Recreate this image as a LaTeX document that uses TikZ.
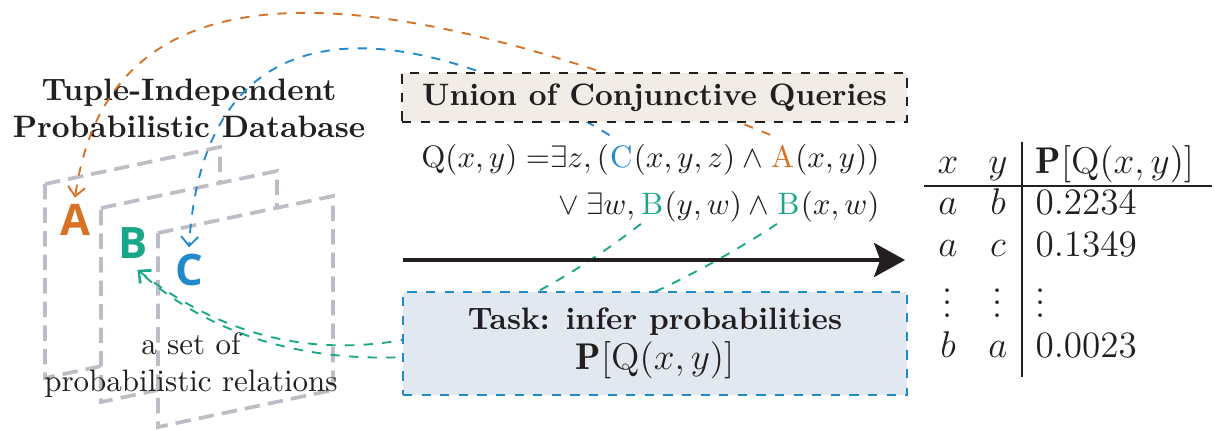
\documentclass[tikz,border=0pt]{standalone}
\usepackage{fontspec}
\usepackage{amsmath,amssymb}
\newfontfamily\letterfont{Open Sans}
\usetikzlibrary{arrows.meta}
\definecolor{ink}{HTML}{231F20}
\definecolor{corange}{HTML}{D97124}
\definecolor{cgreen}{HTML}{19A887}
\definecolor{cblue}{HTML}{2189CC}
\definecolor{pagegray}{HTML}{BDBDC5}
\definecolor{beige}{HTML}{F1ECE6}
\definecolor{paleblue}{HTML}{E1E8EF}
\tikzset{
  page/.style={draw=pagegray, fill=white, line width=1.2pt, dash pattern=on 5pt off 2.6pt, line join=miter},
  relletter/.style={inner sep=2pt, font=\letterfont\bfseries\fontsize{14}{14}\selectfont},
  piece/.style={inner sep=0pt, text=ink, anchor=base east},
  qletter/.style={inner xsep=0pt, inner ysep=3pt, anchor=base east},
  conn/.style={dashed, line width=0.6pt, -{Straight Barb[length=3pt,width=5.5pt]}},
  ubox/.style={draw=ink, dashed, line width=0.8pt, fill=beige, minimum width=162.9pt, minimum height=15.8pt, inner sep=0pt, text=ink, font=\bfseries},
  tbox/.style={draw=cblue, dashed, line width=0.8pt, fill=paleblue, minimum width=162.6pt, minimum height=33.2pt, inner sep=0pt, text=ink, align=center},
  mainarrow/.style={line width=1.1pt, draw=ink, -{Stealth[length=10pt,width=11pt,inset=2pt]}},
  cell/.style={inner sep=0pt, text=ink, font=\large, anchor=base},
  val/.style={inner sep=0pt, text=ink, font=\large, anchor=base west},
  rule/.style={draw=ink, line width=0.8pt},
  label/.style={text=ink, align=center, inner sep=0pt}
}
\begin{document}
\begin{tikzpicture}[x=0.3226pt,y=-0.3226pt]
\useasboundingbox (0,0) rectangle (1214,429);
% pages
\draw[page] (45,184) -- (220,147) -- (220,341) -- (45,378) -- cycle;
\draw[page] (101,208) -- (277,171) -- (277,365) -- (101,402) -- cycle;
\draw[page] (158,233) -- (333,196) -- (333,390) -- (158,427) -- cycle;
% relation letters
\node[relletter, text=corange] (A) at (75,220) {A};
\node[relletter, text=cgreen] (B) at (133,243) {B};
\node[relletter, text=cblue] (C) at (189,270) {C};
\coordinate (Btip) at ([xshift=1.5pt,yshift=-1.5pt]B.south);
% texts
\node[label, font=\bfseries] (title) at (189,108) {Tuple-Independent\\Probabilistic Database};
\node[label] (setof) at (191,365) {a set of\\probabilistic relations};
% formula line 1
\node[piece] (f1e) at (880,167) {$(x,y))$};
\node[qletter, text=corange] (Aq) at (f1e.base west) {$\mathrm{A}$};
\node[piece] (f1d) at (Aq.base west) {$(x,y,z)\land{}$};
\node[qletter, text=cblue] (Cq) at (f1d.base west) {$\mathrm{C}$};
\node[piece] (f1a) at (Cq.base west) {$\mathrm{Q}(x,y) =\mkern-5mu\exists z,($};
% formula line 2
\node[piece] (f2e) at (880,214) {$(x,w)$};
\node[qletter, text=cgreen] (Bq2) at (f2e.base west) {$\mathrm{B}$};
\node[piece] (f2d) at (Bq2.base west) {$(y,w)\land{}$};
\node[qletter, text=cgreen] (Bq1) at (f2d.base west) {$\mathrm{B}$};
\node[piece] (f2a) at (Bq1.base west) {${}\lor\exists w,{}$};
% connectors
\draw[conn, corange] (Aq.north west) .. controls (380,-25) and (110,-50) .. (A.north);
\draw[conn, cblue] (Cq.north west) .. controls (430,25) and (205,-20) .. (C.north);
\draw[conn, cgreen] (Bq1.south west) .. controls (465,360) and (290,390) .. (Btip);
\draw[conn, cgreen] (Bq2.south west) .. controls (530,385) and (280,400) .. (Btip);
% boxes
\node[ubox] (ucq) at (654.5,97.5) {Union of Conjunctive Queries};
\node[tbox] (task) at (655,343.5) {\textbf{Task: infer probabilities}\\[1pt]{\large $\mathbf{P}[\mathrm{Q}(x,y)]$}};
% main arrow
\coordinate (arrS) at (403,260);
\coordinate (arrE) at (905,260);
\draw[mainarrow] (arrS) -- (arrE);
% table
\node[cell] (hx) at (948,173) {$x$};
\node[cell] (hy) at (998,173) {$y$};
\node[val] (hp) at (1035,173) {$\mathbf{P}[\mathrm{Q}(x,y)]$};
\node[cell] (r1x) at (948,214) {$a$};
\node[cell] (r1y) at (998,214) {$b$};
\node[val] (r1p) at (1035,214) {$0.2234$};
\node[cell] (r2x) at (948,256) {$a$};
\node[cell] (r2y) at (998,256) {$c$};
\node[val] (r2p) at (1035,256) {$0.1349$};
\node[cell] (r3x) at (948,317) {\smash{$\vdots$}};
\node[cell] (r3y) at (998,317) {\smash{$\vdots$}};
\node[val] (r3p) at (1035,317) {\smash{$\vdots$}};
\node[cell] (r4x) at (948,357) {$b$};
\node[cell] (r4y) at (998,357) {$a$};
\node[val] (r4p) at (1035,357) {$0.0023$};
\coordinate (hl1) at (924,186);
\coordinate (hl2) at (1212,186);
\coordinate (vl1) at (1022,142);
\coordinate (vl2) at (1022,377);
\draw[rule] (hl1) -- (hl2);
\draw[rule] (vl1) -- (vl2);
\end{tikzpicture}
\end{document}
